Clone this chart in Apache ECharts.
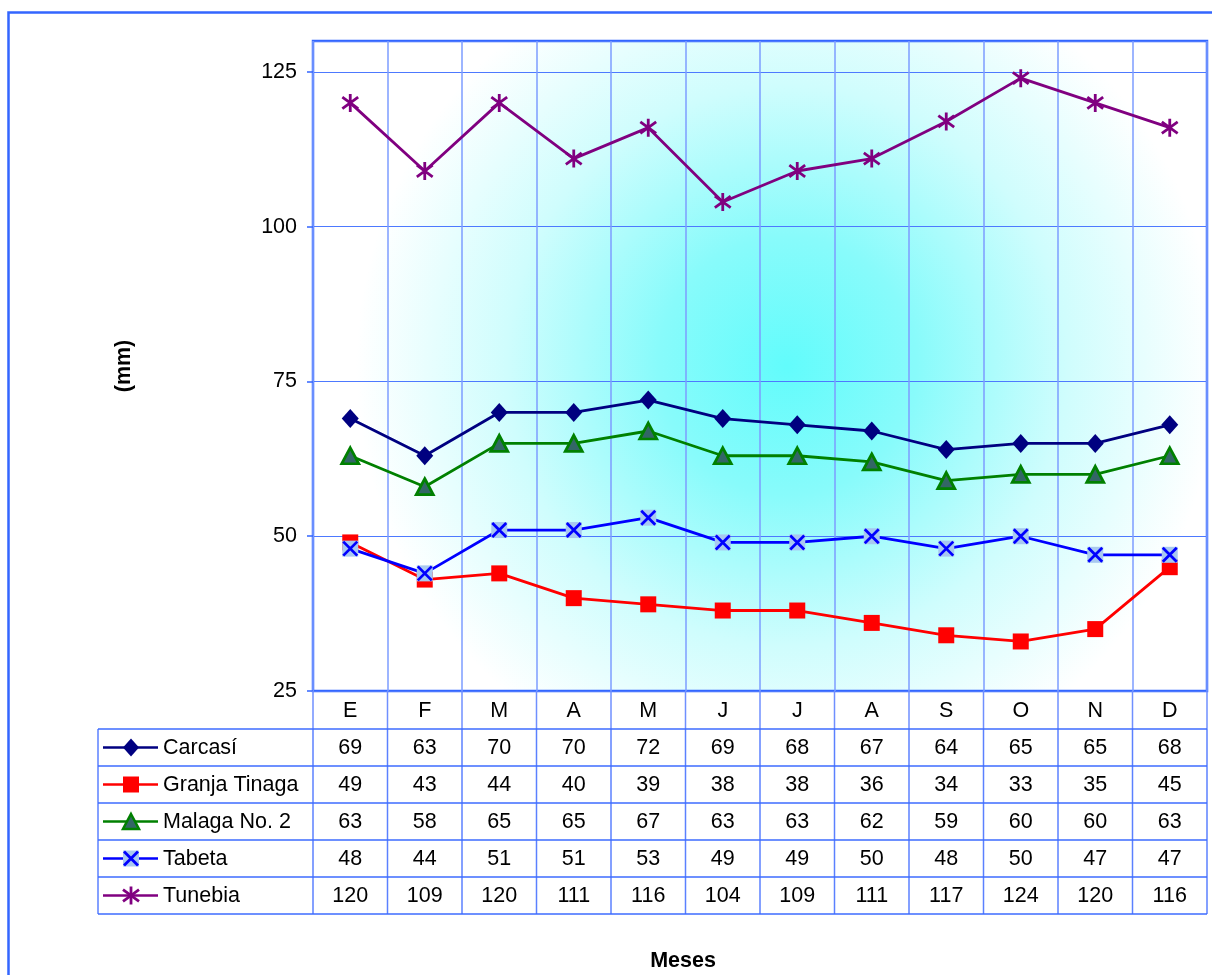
<!DOCTYPE html>
<html>
<head>
<meta charset="utf-8">
<script src="https://cdn.jsdelivr.net/npm/echarts@6/dist/echarts.min.js"></script>
<style>
html,body{margin:0;padding:0;background:#fff;}
#chart{width:1212px;height:975px;}
</style>
</head>
<body>
<div id="chart"></div>
<script>
const months = ['E','F','M','A','M','J','J','A','S','O','N','D'];
const seriesNames = ['Carcasí','Granja Tinaga','Malaga No. 2','Tabeta','Tunebia'];
const carcasi = [69,63,70,70,72,69,68,67,64,65,65,68];
const granjaTinaga = [49,43,44,40,39,38,38,36,34,33,35,45];
const malaga2 = [63,58,65,65,67,63,63,62,59,60,60,63];
const tabeta = [48,44,51,51,53,49,49,50,48,50,47,47];
const tunebia = [120,109,120,111,116,104,109,111,117,124,120,116];
const seriesData = [carcasi, granjaTinaga, malaga2, tabeta, tunebia];
const yTicks = {min:25, max:130, interval:25};
const xAxisTitle = 'Meses';
const yAxisTitle = '(mm)';

const FONT = '"Liberation Sans", Arial, sans-serif';
const FS = 21.5;
const BLUE = '#3366ff';
const GRID_L = 313, GRID_R = 1207, GRID_T = 41, GRID_B = 691;
const ROW_TOP = 729, ROW_H = 37, TABLE_L = 98;

const colors = ['#000080','#ff0000','#008000','#0000ff','#800080'];
const X_PATH = 'path://M0,0L10,10M10,0L0,10';
const STAR_PATH = 'path://M5,0L5,10M0.6,1.8L9.4,8.2M0.6,8.2L9.4,1.8';

const chart = echarts.init(document.getElementById('chart'), null, {renderer:'canvas'});

function lineSeries(i, extra) {
  return Object.assign({
    name: seriesNames[i],
    type: 'line',
    data: seriesData[i],
    lineStyle: {color: colors[i], width: 2.8},
    itemStyle: {color: colors[i]},
    symbolSize: 14,
    silent: true,
    animation: false,
    emphasis: {disabled: true}
  }, extra);
}

const option = {
  animation: false,
  grid: {
    left: GRID_L, right: 1212 - GRID_R, top: GRID_T, bottom: 975 - GRID_B,
    show: true,
    borderColor: BLUE, borderWidth: 2.5,
    backgroundColor: {
      type: 'radial', x: 0.53, y: 0.5, r: 0.66,
      colorStops: [
        {offset: 0, color: '#62fcfc'},
        {offset: 0.3, color: '#88fbfb'},
        {offset: 0.65, color: '#cffdfd'},
        {offset: 1, color: '#ffffff'}
      ]
    }
  },
  xAxis: {
    type: 'category',
    data: months,
    boundaryGap: true,
    axisLine: {show: false},
    axisTick: {show: false},
    splitLine: {show: true, interval: 0, lineStyle: {color: '#7d9cff', width: 1.5}},
    axisLabel: {margin: 9, fontSize: FS, color: '#000', fontFamily: FONT, interval: 0}
  },
  yAxis: {
    type: 'value',
    min: yTicks.min, max: yTicks.max, interval: yTicks.interval,
    axisLine: {show: false},
    axisTick: {show: true, length: 6, lineStyle: {color: BLUE, width: 1.5}},
    splitLine: {show: true, lineStyle: {color: '#4d79ff', width: 1.2}},
    axisLabel: {margin: 16, fontSize: FS, color: '#000', fontFamily: FONT, showMaxLabel: false,
      formatter: v => (v % yTicks.interval === 0 ? String(v) : '')}
  },
  series: [
    lineSeries(0, {symbol: 'diamond', symbolSize: [17, 19]}),
    lineSeries(1, {symbol: 'rect', symbolSize: 16}),
    lineSeries(2, {symbol: 'triangle', symbolSize: [17, 16],
      itemStyle: {color: '#336666', borderColor: '#008000', borderWidth: 2.8}}),
    {
      name: 'Tabeta-bg', type: 'line', data: tabeta, symbol: 'rect', symbolSize: 16,
      lineStyle: {opacity: 0, width: 0}, itemStyle: {color: '#a8c8f0'},
      silent: true, emphasis: {disabled: true}
    },
    lineSeries(3, {symbol: X_PATH, symbolSize: 14, symbolKeepAspect: true,
      itemStyle: {color: '#0000ff', borderColor: '#0000ff', borderWidth: 2.8}}),
    lineSeries(4, {symbol: STAR_PATH, symbolSize: 18, symbolKeepAspect: true,
      itemStyle: {color: '#800080', borderColor: '#800080', borderWidth: 2.8}})
  ]
};
chart.setOption(option);

// ---- data table & titles built from the axis scale ----
const cx = months.map((m, i) => chart.convertToPixel({xAxisIndex: 0}, i));
const half = (cx[1] - cx[0]) / 2;
const bounds = [cx[0] - half].concat(cx.map(c => c + half));
const g = [];
const tStyle = {font: FS + 'px ' + FONT, fill: '#000', textAlign: 'center', textVerticalAlign: 'middle'};
const nRows = seriesNames.length;
const tableBottom = ROW_TOP + ROW_H * nRows;

bounds.forEach(b => g.push({type: 'line', z: 100, shape: {x1: b, y1: GRID_B, x2: b, y2: ROW_TOP},
  style: {stroke: '#6f8fff', lineWidth: 1.5}}));
[TABLE_L].concat(bounds).forEach(b => g.push({type: 'line', z: 100,
  shape: {x1: b, y1: ROW_TOP, x2: b, y2: tableBottom}, style: {stroke: '#5b80ff', lineWidth: 1.5}}));
for (let r = 0; r <= nRows; r++) {
  const y = ROW_TOP + ROW_H * r;
  g.push({type: 'line', z: 100, shape: {x1: TABLE_L, y1: y, x2: bounds[bounds.length - 1], y2: y},
    style: {stroke: '#3d6bff', lineWidth: 1.5}});
}
seriesData.forEach((arr, r) => {
  const yc = ROW_TOP + ROW_H * r + ROW_H / 2 + 1;
  arr.forEach((v, i) => g.push({type: 'text', z: 100, x: cx[i], y: yc,
    style: Object.assign({text: String(v)}, tStyle)}));
});
const KX1 = 103, KX2 = 158, KC = 131;
seriesNames.forEach((name, r) => {
  const yc = ROW_TOP + ROW_H * r + ROW_H / 2;
  const col = colors[r];
  g.push({type: 'line', z: 100, shape: {x1: KX1, y1: yc, x2: KX2, y2: yc}, style: {stroke: col, lineWidth: 2.5}});
  if (r === 0) {
    g.push({type: 'polygon', z: 101, shape: {points: [[KC, yc - 9], [KC + 8, yc], [KC, yc + 9], [KC - 8, yc]]}, style: {fill: col}});
  } else if (r === 1) {
    g.push({type: 'rect', z: 101, shape: {x: KC - 8, y: yc - 8, width: 16, height: 16}, style: {fill: col}});
  } else if (r === 2) {
    g.push({type: 'polygon', z: 101, shape: {points: [[KC, yc - 7.5], [KC + 8, yc + 7.5], [KC - 8, yc + 7.5]]},
      style: {fill: '#336666', stroke: col, lineWidth: 2.5}});
  } else if (r === 3) {
    g.push({type: 'rect', z: 101, shape: {x: KC - 8, y: yc - 8, width: 16, height: 16}, style: {fill: '#a8c8f0'}});
    g.push({type: 'line', z: 102, shape: {x1: KC - 7, y1: yc - 7, x2: KC + 7, y2: yc + 7}, style: {stroke: col, lineWidth: 2.8}});
    g.push({type: 'line', z: 102, shape: {x1: KC + 7, y1: yc - 7, x2: KC - 7, y2: yc + 7}, style: {stroke: col, lineWidth: 2.8}});
  } else {
    g.push({type: 'line', z: 102, shape: {x1: KC, y1: yc - 9, x2: KC, y2: yc + 9}, style: {stroke: col, lineWidth: 2.8}});
    g.push({type: 'line', z: 102, shape: {x1: KC - 8, y1: yc - 5.8, x2: KC + 8, y2: yc + 5.8}, style: {stroke: col, lineWidth: 2.8}});
    g.push({type: 'line', z: 102, shape: {x1: KC - 8, y1: yc + 5.8, x2: KC + 8, y2: yc - 5.8}, style: {stroke: col, lineWidth: 2.8}});
  }
  g.push({type: 'text', z: 100, x: 163, y: yc + 1,
    style: {text: name, font: FS + 'px ' + FONT, fill: '#000', textAlign: 'left', textVerticalAlign: 'middle'}});
});
g.push({type: 'text', z: 100, x: 683, y: 961,
  style: {text: xAxisTitle, font: 'bold ' + FS + 'px ' + FONT, fill: '#000', textAlign: 'center', textVerticalAlign: 'middle'}});
g.push({type: 'text', z: 100, x: 124, y: 366, rotation: Math.PI / 2,
  style: {text: yAxisTitle, font: 'bold ' + FS + 'px ' + FONT, fill: '#000', textAlign: 'center', textVerticalAlign: 'middle'}});
g.push({type: 'rect', z: 0, silent: true, shape: {x: 8.5, y: 12.5, width: 1240, height: 1000},
  style: {fill: null, stroke: BLUE, lineWidth: 2.5}});

chart.setOption({graphic: {elements: g}});
</script>
</body>
</html>
